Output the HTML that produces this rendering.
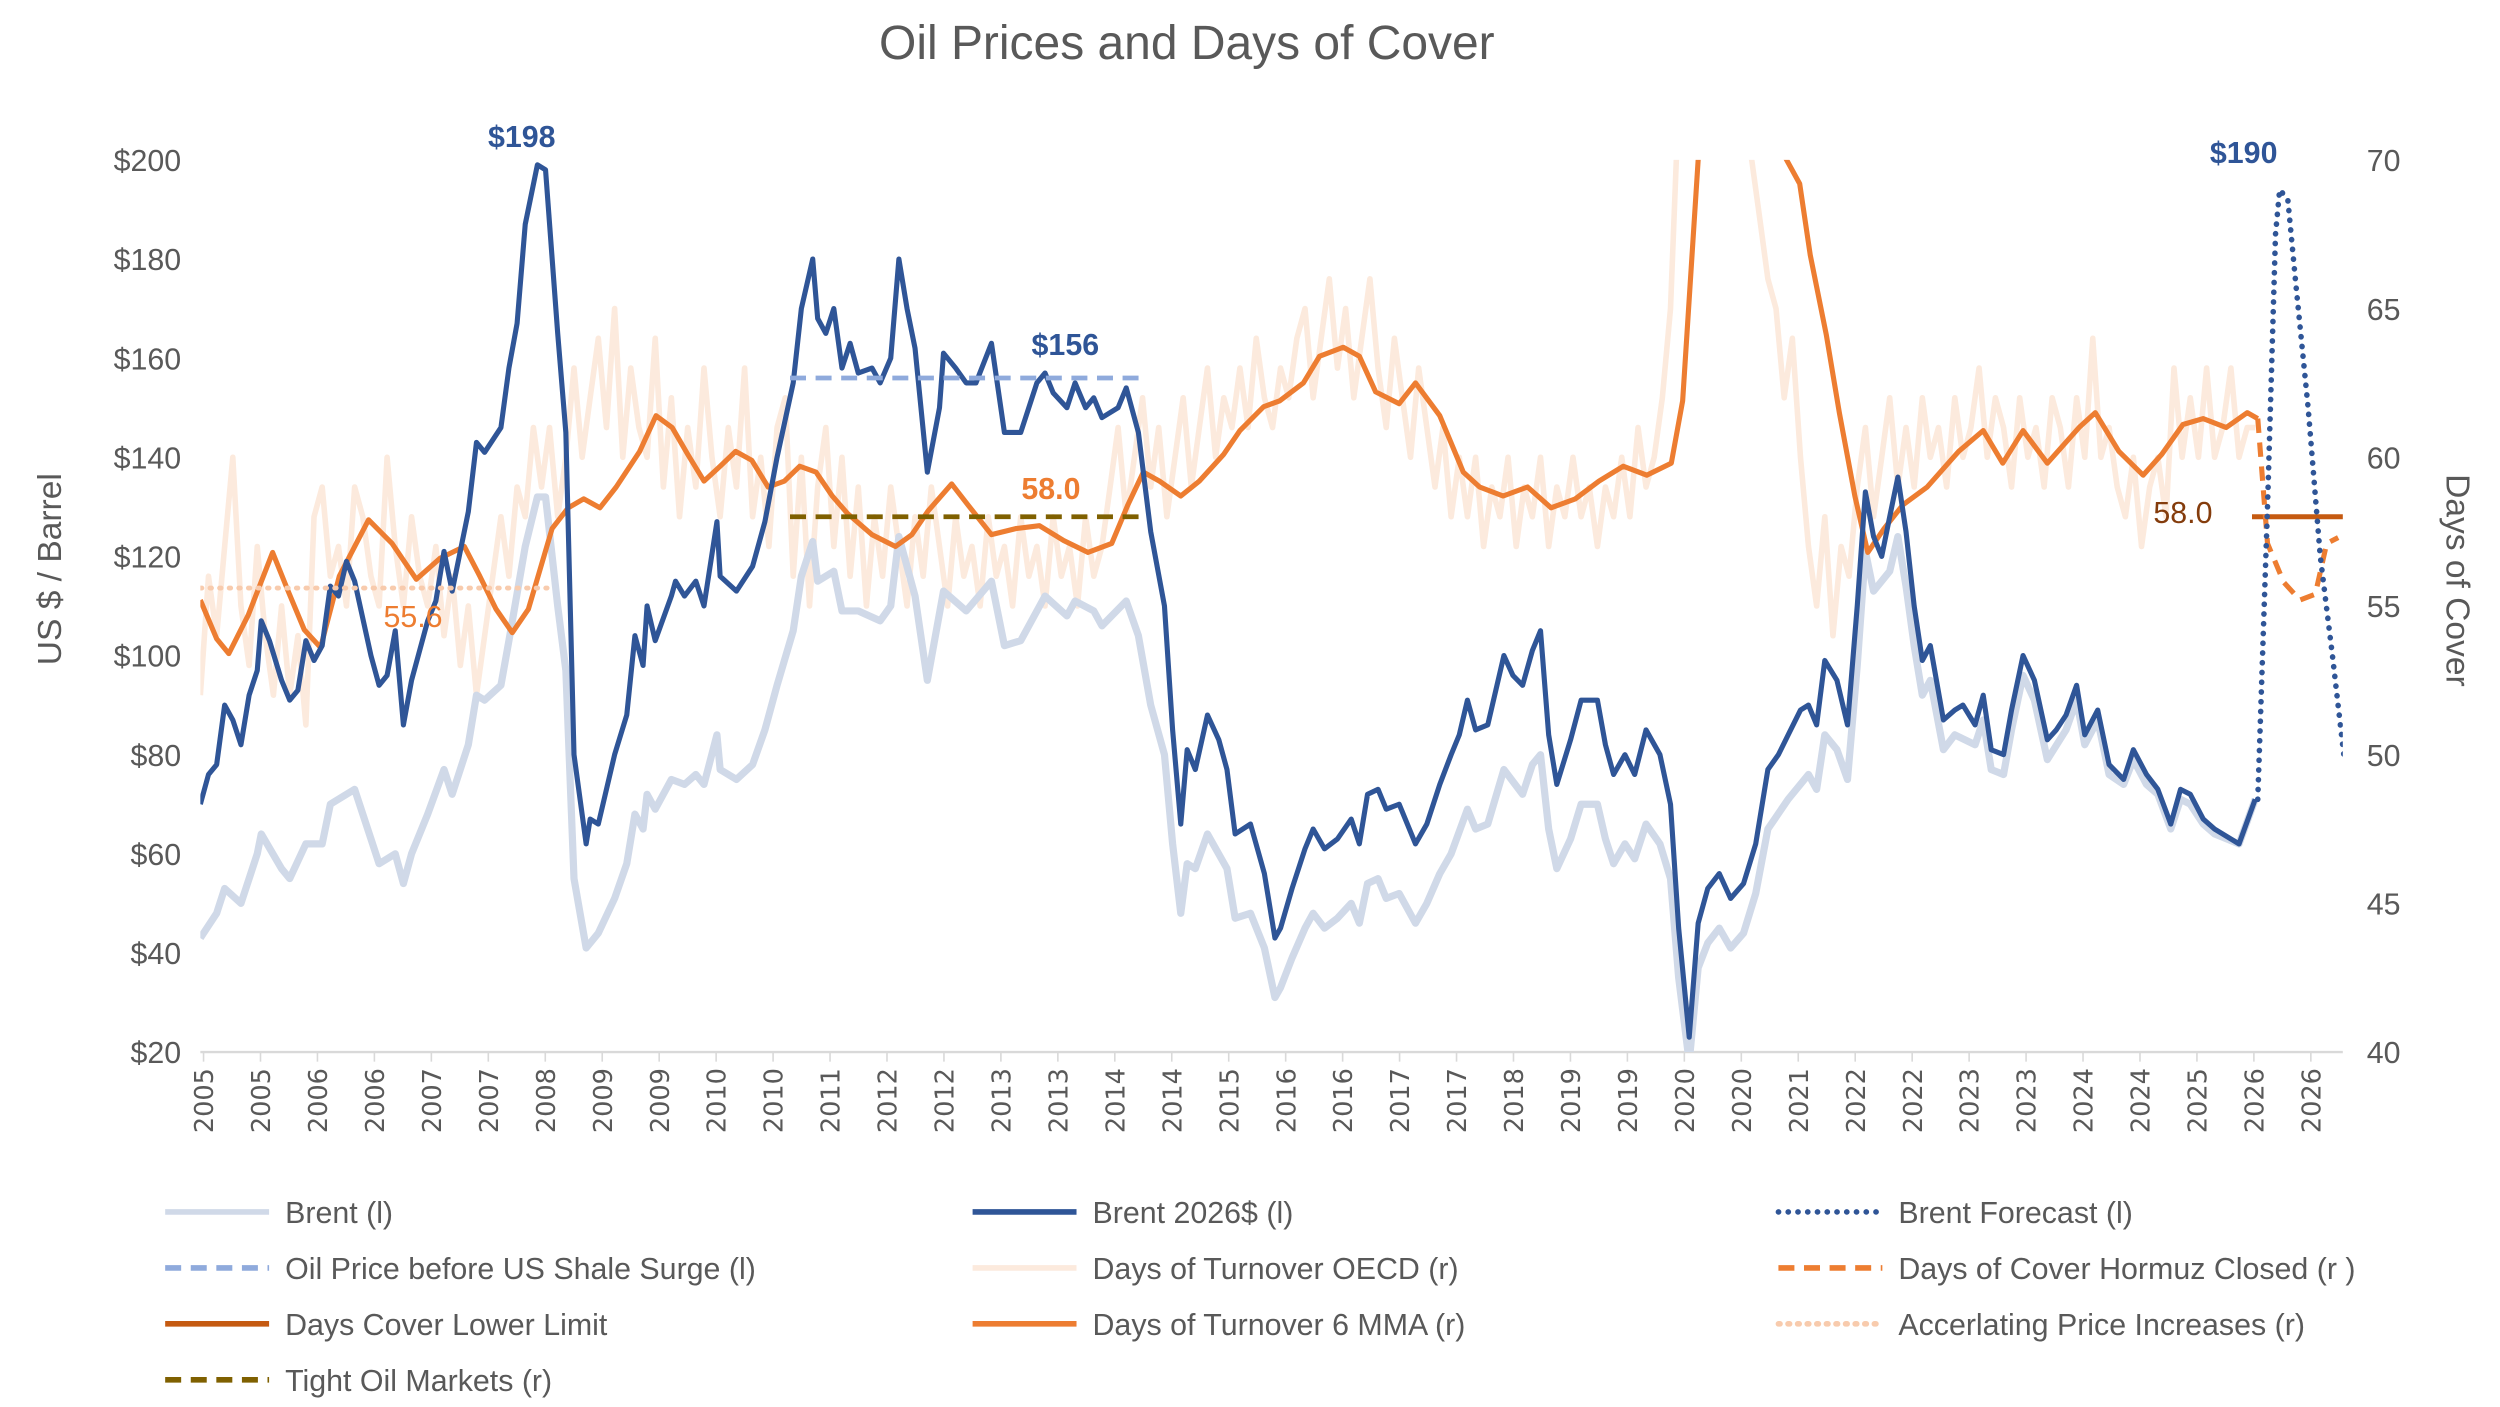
<!DOCTYPE html>
<html><head><meta charset="utf-8"><style>
html,body{margin:0;padding:0;background:#fff}
svg{display:block;font-family:"Liberation Sans",sans-serif}
</style></head><body>
<svg id="chart" width="2500" height="1407" viewBox="0 0 1563 880" xmlns="http://www.w3.org/2000/svg">
<defs><clipPath id="pc"><rect x="125" y="100" width="1340" height="558"/></clipPath></defs>
<text x="742" y="37" text-anchor="middle" font-size="30" fill="#595959">Oil Prices and Days of Cover</text>
<text transform="translate(38,356) rotate(-90)" text-anchor="middle" font-size="21" fill="#595959">US $ / Barrel</text>
<text transform="translate(1530,363) rotate(90)" text-anchor="middle" font-size="21" fill="#595959">Days of Cover</text>
<g id="axes"></g>
<g id="series" clip-path="url(#pc)"></g>
<g id="annot"></g>
<g id="legend"></g>
</svg>
<script>
const xTickLabels=["2005","2005","2006","2006","2007","2007","2008","2009","2009","2010","2010","2011","2012","2012","2013","2013","2014","2014","2015","2016","2016","2017","2017","2018","2019","2019","2020","2020","2021","2022","2022","2023","2023","2024","2024","2025","2026","2026"];
const leftTicks=[20,40,60,80,100,120,140,160,180,200];
const rightTicks=[40,45,50,55,60,65,70];
const brentRealMonths=[0,1,2,3,4,5,6,7,7.5,8.5,10,11,12,13,14,15,16,17,18,19,21,22,23,24,25,26,28,29,30,31,33,34,35,37,38,39,40,41.5,42.5,44,45,46,47.5,48,49,51,52.5,53.5,54.5,55,56,58,58.5,59.6,61,62,63.6,64,66,68,69.5,71,73,74,75.4,76,77,78,79,80,81,82.7,83.7,85,86,87,88,89.5,91,91.5,93,94.3,95.5,97.4,99,101,103,104,105,106.7,107.7,109,110,111,113,114,115.5,117,118.7,119.7,120.7,121.5,122.5,124,125.4,126.4,127.4,129.3,131,132.3,133,134.4,136,137,138.4,140,141.7,142.7,143.7,145,146,147.6,149.6,151,152.6,154,155,156,157,158.5,160.5,161.6,162.8,164,165,166,167,168.7,170,172,173,174,175.4,176.6,178,179.7,181,182,183.3,184.4,185.6,187,188.4,190,191.5,193,194.3,195.5,197,198,199,200,201.5,202.8,204,205,206,207,208,209,210,211,212,213,214.6,216,217,218.5,219.5,220.5,222,223,224.4,225.8,227.4,228.5,229.7,231,232,233.6,235,236.8,238,239.6,241,242.6,243.8,245,246.6,248,251,253];
const brentRealValues=[70,76,78,90,87,82,92,97,107,103,95,91,93,103,99,102,114,112,119,115,100,94,96,105,86,95,107,111,121,113,129,143,141,146,158,167,187,199,198,165,145,80,62,67,66,80,88,104,98,110,103,112,115,112,115,110,127,116,113,118,127,140,155,170,180,168,165,170,158,163,157,158,155,160,180,170,162,137,150,161,158,155,155,163,145,145,155,157,153,150,155,150,152,148,150,154,145,125,110,85,66,81,77,88,83,77,64,66,56,43,45,53,61,65,61,63,67,62,72,73,69,70,62,66,74,80,84,91,85,86,100,96,94,101,105,84,74,83,91,91,82,76,80,76,85,80,70,45,23,46,53,56,51,54,62,77,80,84,89,90,86,99,95,86,110,133,124,120,128,136,125,110,99,102,87,89,90,86,92,81,80,89,100,95,83,85,88,94,84,89,78,75,81,76,73,66,73,72,67,65,62,71];
const brentNomMonths=[0,2,3,5,7,7.5,10,11,13,15,16,18,19,21,22,24,25,26,28,30,31,33,34,35,37,38,40,41.5,42.5,44,45,46,47.5,49,51,52.5,53.5,54.5,55,56,58,59.6,61,62,63.6,64,66,68,69.5,71,73,74,75.4,76,78,79,81,83.7,85,86,88,89.5,91.5,94.3,97.4,99,101,104,106.7,107.7,110,111,114,115.5,117,118.7,119.7,120.7,121.5,122.5,124,126.4,127.4,129.3,131,132.3,133,134.4,136,137,138.4,140,141.7,142.7,143.7,145,146,147.6,149.6,151,152.6,154,156,157,158.5,160.5,162.8,164,165,166,167,168.7,170,172,173,174,175.4,176.6,178,179.7,181,182,183.3,184.4,185.6,187,188.4,190,191.5,193,195.5,198,199,200,201.5,202.8,204,205,206,208,209,210,211,212,213,214.6,216,218.5,219.5,220.5,222,223,224.4,225.8,227.4,229.7,231,232,233.6,235,236.8,238,239.6,241,242.6,243.8,245,246.6,248,251,253];
const brentNomValues=[43,48,53,50,60,64,57,55,62,62,70,72,73,63,58,60,54,60,68,77,72,82,92,91,94,103,122,132,132,110,97,55,41,44,51,58,68,65,72,69,75,74,76,74,84,77,75,78,85,94,105,116,123,115,117,109,109,107,110,124,112,95,113,109,115,102,103,112,108,111,109,106,111,104,90,80,62,48,58,57,64,57,47,48,41,31,33,39,45,48,45,47,50,46,54,55,51,52,46,50,56,60,69,65,66,77,72,78,80,65,57,63,70,70,63,58,62,59,66,62,55,35,18,37,42,45,41,44,52,65,71,76,73,84,81,75,98,121,113,117,124,114,102,92,95,81,84,82,87,77,76,85,96,91,79,85,91,82,87,76,74,79,74,72,65,71,70,66,64,62,71];
const daysRawValues=[52,56,54,57,60,55,53,57,54,52,55,52,54,51,58,59,56,57,55,59,58,56,55,60,57,55,58,56,55,57,54,56,53,55,52,54,56,58,56,59,58,61,59,61,58,60,63,60,62,64,61,65,60,63,61,60,64,59,62,58,61,59,63,60,58,61,59,63,58,60,57,61,62,56,60,55,59,61,57,60,56,59,55,58,56,59,57,55,58,56,59,57,55,58,56,57,55,58,56,57,55,58,56,57,55,58,56,57,55,58,56,57,59,61,58,60,62,59,61,58,60,62,59,61,63,60,62,61,63,61,64,62,61,63,62,64,65,62,64,66,63,65,62,64,66,63,61,64,62,60,63,61,59,61,58,60,58,60,57,59,58,60,57,59,58,60,57,59,58,60,58,59,57,59,58,60,58,61,59,60,62,65,72,74,73,72,71,74,72,73,71,70,68,66,65,62,64,60,57,55,58,54,57,56,59,61,58,60,62,59,61,59,62,60,61,59,62,60,61,63,60,62,61,59,62,60,61,59,62,61,59,62,60,64,60,61,59,58,60,57,59,60,58,63,60,62,60,63,60,61,63,60,61,61];
const mmaMonths=[0,2,3.5,5.9,8.9,10.8,12.8,14.8,17.1,20.7,23.6,26.6,29.5,32.5,34.4,36.4,38.4,40.4,43.3,45.3,47.2,49.2,51.2,54.1,56.1,58.1,60,62,64,65.9,67.9,69.9,71.9,73.8,75.8,77.8,79.7,82.7,85.6,87.6,89.6,92.5,94.5,97.4,100.4,103.3,106.3,109.3,112.2,114.2,116.1,118.1,120.7,123,126,128,130.9,132.9,135.8,137.8,140.7,142.7,144.7,147.6,149.6,152.6,155.5,157.5,160.4,163.4,166.3,169.3,172.2,175.2,178.1,181.1,182.5,184.4,186,188,191,194.3,196.9,198.2,200.2,201.8,203.7,205.3,207.3,209.6,212.6,215.2,216.5,219.5,221.9,224.4,227.4,231.3,233.3,236.2,239.2,241.5,244.1,246.6,249.4,252,253.3];
const mmaValues=[55.2,53.9,53.4,54.7,56.8,55.5,54.2,53.6,56,57.9,57.1,55.9,56.6,57,56,54.9,54.1,54.9,57.6,58.3,58.6,58.3,59,60.2,61.4,61,60.1,59.2,59.7,60.2,59.9,59,59.2,59.7,59.5,58.7,58.1,57.4,57,57.4,58.2,59.1,58.4,57.4,57.6,57.7,57.2,56.8,57.1,58.4,59.5,59.2,58.7,59.2,60.1,60.9,61.7,61.9,62.5,63.4,63.7,63.4,62.2,61.8,62.5,61.4,59.5,59,58.7,59,58.3,58.6,59.2,59.7,59.4,59.8,61.9,70,75,78,76,70.5,69.2,66.8,64.1,61.5,58.7,56.8,57.6,58.4,59,59.8,60.2,60.9,59.8,60.9,59.8,61,61.5,60.2,59.4,60.1,61.1,61.3,61,61.5,61.3];
const hormuzMonths=[253.3,254.5,256.5,258.5,260.4,261.8,263.2];
const hormuzValues=[61.3,57.1,55.8,55.2,55.4,57.1,57.3];
const forecastMonths=[253.3,254.5,255.5,256,257,258,259.5,261,262.5,263.9];
const forecastValues=[71,130,185,194,192,175,150,120,100,80];
const shaleMonths=[72.6,115.9]; const shaleValue=156;
const tightMonths=[72.6,115.9]; const tightValue=58.0;
const accelMonths=[0,42.7]; const accelValue=55.6;
const lowerMonths=[252.6,263.8]; const lowerValue=58.0;

const NS="http://www.w3.org/2000/svg";
const X0=125,X1=1465,Y0=100,Y1=658;
const xS=m=>X0+m*5.08;
const yL=v=>Y1-(v-20)/180*(Y1-Y0);
const yR=v=>Y1-(v-40)/30*(Y1-Y0);
function mk(tag,attrs,parent){const e=document.createElementNS(NS,tag);for(const k in attrs)e.setAttribute(k,attrs[k]);parent.appendChild(e);return e;}
const axes=document.getElementById('axes'),ser=document.getElementById('series'),ann=document.getElementById('annot'),leg=document.getElementById('legend');

let ax=mk('line',{x1:X0,x2:X1,y1:Y1,y2:Y1,stroke:'#d9d9d9','stroke-width':1.5},axes);


xTickLabels.forEach((t,i)=>{
  const x=X0+i*(X1-X0-22)/(xTickLabels.length-1)+2;
  const tk=mk('line',{x1:x,x2:x,y1:Y1,y2:Y1+6,stroke:'#d9d9d9','stroke-width':1},axes);
  
  
  const tx=mk('text',{transform:`translate(${x+6},${Y1+10}) rotate(-90)`,'text-anchor':'end','font-size':16,fill:'#595959','font-family':'DejaVu Sans, sans-serif'},axes);
  tx.textContent=t;
  
  
});
leftTicks.forEach(v=>{
  const tx=mk('text',{x:113,y:yL(v)+7,'text-anchor':'end','font-size':19,fill:'#595959'},axes);
  tx.textContent='$'+v;
  
  
});
rightTicks.forEach(v=>{
  const tx=mk('text',{x:1480,y:yR(v)+7,'font-size':19,fill:'#595959'},axes);
  tx.textContent=v;
  
  
});

function pathOf(ms,vs,ys){return ms.map((m,i)=>(i?'L':'M')+xS(m).toFixed(1)+','+ys(vs[i]).toFixed(1)).join('');}
function line(ms,vs,ys,stroke,w,dash,name,cap){
  const p=mk('path',{d:pathOf(ms,vs,ys),fill:'none',stroke:stroke,'stroke-width':w,'stroke-linejoin':'round','stroke-linecap':cap||'butt'},ser);
  if(dash)p.setAttribute('stroke-dasharray',dash);
  
  
  return p;
}
const rawMonths=daysRawValues.map((v,i)=>i);
line(rawMonths,daysRawValues,yR,'#FCEADD',3.5,null,'days-turnover-oecd-line');
line(brentNomMonths,brentNomValues,yL,'#D0D9E8',4.5,null,'brent-nominal-line');
line(mmaMonths,mmaValues,yR,'#ED7D31',3.2,null,'days-turnover-6mma-line');
line(brentRealMonths,brentRealValues,yL,'#2F5597',3.2,null,'brent-2026-line');
line(shaleMonths,[shaleValue,shaleValue],yL,'#8FAADC',3,'10,6','shale-surge-line');
line(tightMonths,[tightValue,tightValue],yR,'#7F6000',3,'10,6','tight-oil-markets-line');
line(accelMonths,[accelValue,accelValue],yR,'#F8CBAD',3,'1,5','accelerating-price-line','round');
line(lowerMonths,[lowerValue,lowerValue],yR,'#C55A11',3.2,null,'days-cover-lower-limit-line');
line(hormuzMonths,hormuzValues,yR,'#ED7D31',3.2,'9,6','hormuz-closed-line');
line(forecastMonths,forecastValues,yL,'#2F5597',3.5,'0.1,6','brent-forecast-line','round');

function label(x,y,t,c,bold,name){const e=mk('text',{x:x,y:y,'text-anchor':'middle','font-size':19,fill:c,'font-weight':bold?'bold':'normal'},ann);e.textContent=t;
  
  }
label(326,92,'$198','#2F5597',true,'peak-2008-label');
label(666,222,'$156','#2F5597',true,'shale-surge-label');
label(657,312,'58.0','#ED7D31',true,'tight-oil-label');
label(258,392,'55.6','#ED7D31',false,'accelerating-label');
label(1365,327,'58.0','#843C0C',false,'lower-limit-label');
label(1403,102,'$190','#2F5597',true,'forecast-peak-label');

const legendNames=['Brent (l)','Brent 2026$ (l)','Brent Forecast (l)','Oil Price before US Shale Surge (l)','Days of Turnover OECD (r)','Days of Cover Hormuz Closed (r )','Days Cover Lower Limit','Days of Turnover 6  MMA (r)','Accerlating Price Increases (r)','Tight Oil Markets (r)'];
const legendColors=['#D0D9E8','#2F5597','#2F5597','#8FAADC','#FCEADD','#ED7D31','#C55A11','#ED7D31','#F8CBAD','#7F6000'];
const legendDash=['','','0.1,6','10,6','','10,6','','','1,5','10,6'];
const colX=[103,608,1112];
legendNames.forEach((n,i)=>{
  const c=i%3,r=Math.floor(i/3),x=colX[c],y=758+r*35;
  const g=mk('g',{},leg);
  
  
  const l=mk('line',{x1:x,x2:x+65,y1:y,y2:y,stroke:legendColors[i],'stroke-width':3.5,'stroke-linecap':legendDash[i]&&legendDash[i].startsWith('0.1')||legendDash[i]=='1,5'?'round':'butt'},g);
  if(legendDash[i])l.setAttribute('stroke-dasharray',legendDash[i]);
  const t=mk('text',{x:x+75,y:y+7,'font-size':19,fill:'#595959'},g);
  t.textContent=n;
});
</script>
</body></html>
